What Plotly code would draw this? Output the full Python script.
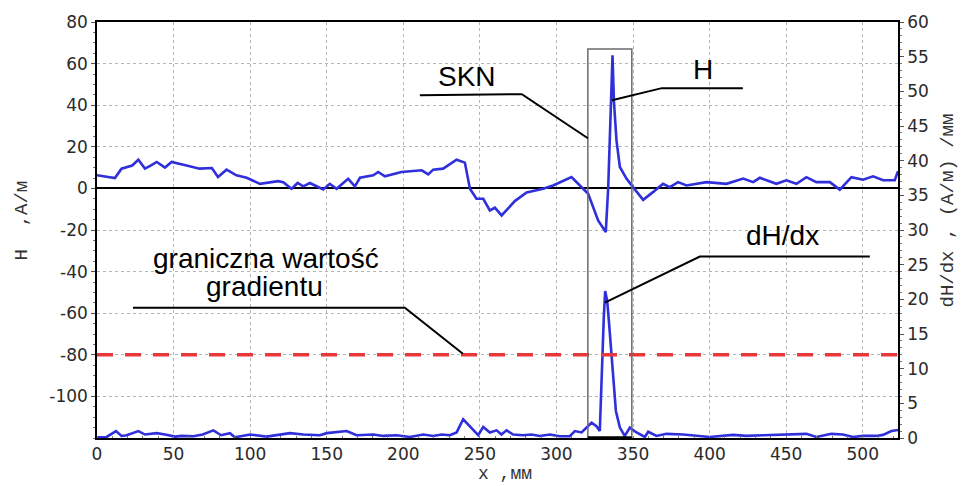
import plotly.graph_objects as go

# ---- data -------------------------------------------------------------
x_H = [0, 9.6, 11.7, 16, 19.4, 23, 27, 31.3, 35, 39, 44.4, 48.7, 58.5, 67, 75, 79,
       84.6, 91, 97.7, 106.4, 118.3, 121.6, 127, 131, 134.7, 139, 147.7, 152, 156.4,
       164, 168.4, 171.7, 180.4, 183.6, 188, 198.8, 212, 216.3, 219.5, 226, 234.8,
       240.2, 243.5, 247.8, 252.2, 256.5, 259.8, 264.2, 272.8, 280.5, 291.3, 297.8,
       309.8, 320.7, 327.2, 332.2, 333.8, 335.3, 336.6, 337.5, 339.2, 341.4, 345.7,
       350, 356.6, 363, 369.6, 374, 379.4, 384.9, 398, 411, 421.9, 428.4, 432.8,
       443.6, 450.1, 456.7, 463.2, 469.7, 478.5, 485, 492.6, 500.2, 506.7, 513.3,
       520.9, 523]
H_vals = [6.3, 5.5, 5.0, 9.5, 10.3, 11, 13.8, 9.5, 11, 12.7, 10, 12.7, 11, 9.5, 9.8, 5.5,
          9, 6.3, 5.1, 2.2, 3.5, 3.0, -0.2, 2.6, 1.0, 2.6, -0.5, 2.2, -0.2,
          4.6, 1.0, 5.1, 6.3, 7.9, 5.8, 7.9, 8.7, 6.7, 9, 9.5, 13.8,
          12.4, -0.2, -5, -5, -10.6, -9.3, -13, -6.1, -2, -0.2, 1.4,
          5.4, -2.6, -15.4, -21, 0.6, 39, 64, 42, 23, 10.3, 4.7,
          0.6, -5.5, -1.8, 2.2, 0.6, 3, 1.4, 3, 2.2, 4.7, 3, 5.1,
          2.2, 3.9, 2.2, 5.4, 3, 3, -0.6, 5.4, 4.2, 5.8, 3.9,
          3.9, 8.3]

x_d = [0, 6.3, 12.4, 16, 19.4, 27, 31.3, 39, 44.4, 51, 55.3, 63, 69, 76, 81, 86.8, 90,
       100, 110.7, 121.6, 126, 134.7, 145.5, 150, 163, 169.5, 180.4, 187, 195.6, 204.3,
       213, 219.5, 225, 230.4, 234.8, 239.1, 243.5, 248.9, 252.2, 256.5, 260.9, 264.1,
       267.4, 271.7, 278.2, 283.7, 289, 295.7, 302, 308.7, 312, 316.4, 322.9, 326.1,
       328.3, 330, 330.9, 331.8, 333.1, 334.4, 336.6, 338.8, 341.4, 344.6, 347.9,
       352.3, 357.7, 359.9, 365.3, 371.9, 382.7, 391.4, 400.1, 415.3, 424, 434.9,
       447.9, 456.7, 463.2, 469.7, 479.5, 487, 493.6, 500.1, 508.9, 513.2, 518.7, 523]
dHdx_vals = [0.1, 0.15, 1.0, 0.3, 0.4, 1.0, 0.5, 0.7, 0.5, 0.2, 0.3, 0.25, 0.5, 1.1, 0.4, 0.7, 0.1,
             0.5, 0.2, 0.5, 0.7, 0.5, 0.4, 0.7, 1.0, 0.4, 0.5, 0.3, 0.4, 0.15,
             0.5, 0.3, 0.5, 0.4, 0.8, 2.7, 1.7, 0.4, 1.6, 0.8, 1.1, 0.5,
             1.1, 0.5, 0.4, 0.5, 0.3, 0.5, 0.25, 0.25, 1.0, 0.8, 2.2, 1.7,
             1.0, 12.6, 17.4, 21.2, 19.8, 16.4, 10.2, 3.9, 1.5, 0.3, 1.5,
             0.8, 0.15, 0.9, 0.3, 0.6, 0.5, 0.3, 0.15, 0.45, 0.3, 0.4,
             0.45, 0.5, 0.6, 0.15, 0.6, 0.5, 0.15, 0.3, 0.3, 0.45, 1.0, 1.15]

threshold = 12          # graniczna wartość gradientu, (A/м)/мм
x_range = [0, 523]
H_ticks = [-100, -80, -60, -40, -20, 0, 20, 40, 60, 80]
H_ticktext = ["-100", "-80", "-60", "-40", "-20", "0", "20", "40", "60", "80"]
x_ticks = [0, 50, 100, 150, 200, 250, 300, 350, 400, 450, 500]
d_ticks = [0, 5, 10, 15, 20, 25, 30, 35, 40, 45, 50, 55, 60]

# ---- figure -------------------------------------------------------------
BLUE = "#2f2fdc"
fig = go.Figure()
fig.add_trace(go.Scatter(x=x_H, y=H_vals, mode="lines", yaxis="y",
                         line=dict(color=BLUE, width=2.6), hoverinfo="skip"))
fig.add_trace(go.Scatter(x=x_d, y=dHdx_vals, mode="lines", yaxis="y2",
                         line=dict(color=BLUE, width=2.6), hoverinfo="skip"))
fig.add_trace(go.Scatter(x=x_range, y=[threshold, threshold], mode="lines", yaxis="y2",
                         line=dict(color="#e8393a", width=3.5, dash="16px,12px"),
                         hoverinfo="skip"))

tickfont = dict(family="DejaVu Sans", size=17, color="#2a2a2a")
gridstyle = dict(showgrid=True, gridcolor="#b5b5b5", gridwidth=1, griddash="dot")

fig.update_layout(
    width=962, height=486,
    margin=dict(l=97, r=64, t=22, b=48),
    paper_bgcolor="white", plot_bgcolor="white",
    showlegend=False,
    xaxis=dict(range=x_range, tickvals=x_ticks, tickfont=tickfont,
               showline=True, linecolor="black", linewidth=1.5, mirror=True,
               ticks="",
               minor=dict(ticks="inside", ticklen=2, dtick=10, tickcolor="#777"),
               zeroline=False, **gridstyle),
    yaxis=dict(range=[-120, 80], tickvals=H_ticks, ticktext=H_ticktext, tickfont=tickfont,
               showline=True, linecolor="black", linewidth=1.5,
               ticks="outside", ticklen=4, tickcolor="#555",
               minor=dict(ticks="outside", ticklen=2, dtick=5, tick0=0, tickcolor="#777"),
               zeroline=True, zerolinecolor="black", zerolinewidth=1.5,
               **gridstyle),
    yaxis2=dict(range=[0, 60], tickvals=d_ticks, tickfont=tickfont,
                overlaying="y", side="right", showgrid=False, zeroline=False,
                showline=True, linecolor="black", linewidth=1.5,
                ticks="outside", ticklen=4, tickcolor="#555",
                minor=dict(ticks="outside", ticklen=2, dtick=1, tick0=0, tickcolor="#777")),
)

# annotation geometry (frame around SKN region and leader lines)
SKN_BOX = dict(x0=320.5, x1=349.2, y0=-120, y1=67)
fig.add_shape(type="rect", xref="x", yref="y", **SKN_BOX,
              line=dict(color="#6a6a6a", width=1.5))
fig.add_shape(type="line", xref="x", yref="y", x0=SKN_BOX["x0"], x1=SKN_BOX["x1"],
              y0=-120, y1=-120, line=dict(color="black", width=3.5))

leaders = [
    [(210.8, 44.8), (277.4, 45.3), (320.5, 24.1)],     # SKN
    [(336.2, 42.4), (368.8, 48.2), (421.7, 48.2)],     # H
    [(331.6, -54.9), (393.6, -32.8), (504.6, -32.8)],  # dH/dx
    [(23.5, -57.4), (201.0, -57.4), (238.9, -79.5)],   # graniczna wartość
]
for pts in leaders:
    path = "M " + " L ".join(f"{x},{y}" for x, y in pts)
    fig.add_shape(type="path", xref="x", yref="y", path=path,
                  line=dict(color="black", width=2))

labfont = dict(family="Arial", size=28, color="black")
for text, x, y in [("SKN", 241.5, 54.0), ("H", 395.6, 57.3), ("dH/dx", 447.8, -22.7),
                   ("graniczna wartość", 110.3, -33.7), ("gradientu", 109.3, -47.2)]:
    fig.add_annotation(text=text, x=x, y=y, xref="x", yref="y", showarrow=False,
                       font=labfont, xanchor="center", yanchor="middle")

titlefont = dict(family="Liberation Mono", size=19, color="#333")
fig.add_annotation(text="H  ,A/м", xref="paper", yref="paper", x=-0.094, y=0.522,
                   textangle=-90, showarrow=False, font=titlefont,
                   xanchor="center", yanchor="middle")
fig.add_annotation(text="dH/dx , (A/м) /мм", xref="paper", yref="paper", x=1.063, y=0.548,
                   textangle=-90, showarrow=False, font=titlefont,
                   xanchor="center", yanchor="middle")
fig.add_annotation(text="x ,мм", xref="paper", yref="paper", x=0.509, y=-0.114,
                   showarrow=False, font=dict(family="Liberation Mono", size=18, color="#333"),
                   xanchor="center", yanchor="bottom", borderpad=0)

fig.write_html("out.html")
